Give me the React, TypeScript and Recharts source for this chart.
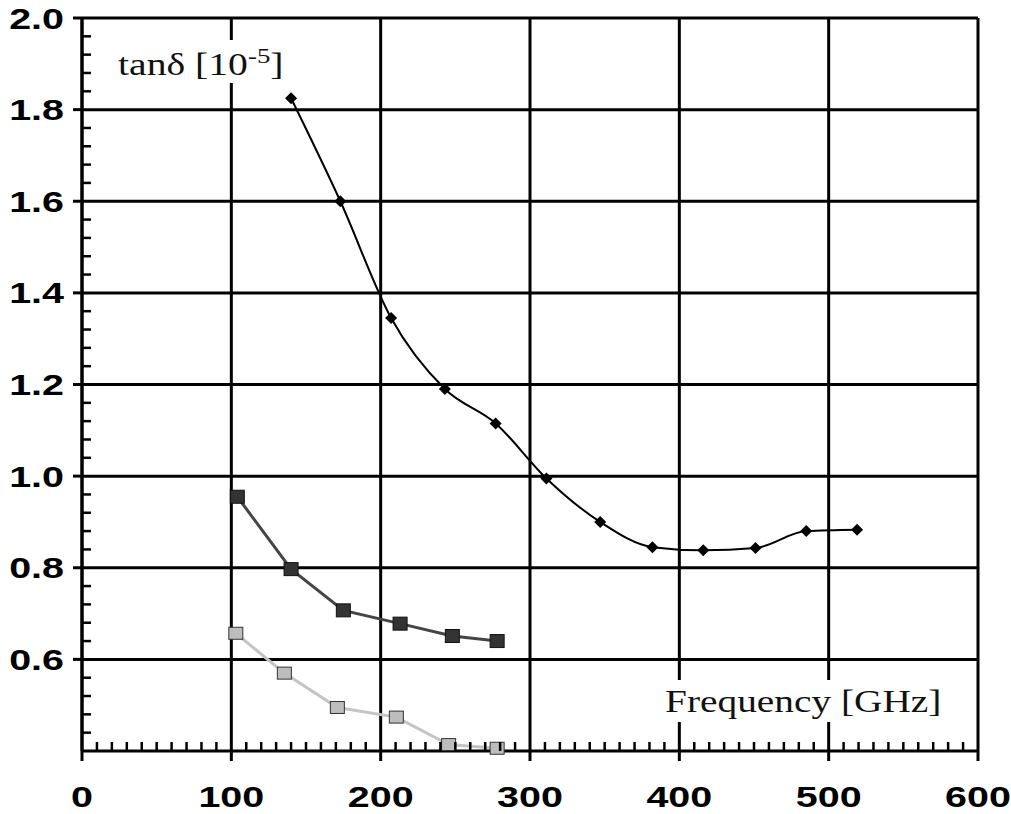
import React from "react";
import { ComposedChart, Line, XAxis, YAxis, CartesianGrid, Customized } from "recharts";

// black diamonds (smoothed curve)
const freqA = [140, 173, 207, 243, 277, 311, 347, 382, 416, 451, 485, 519];
const tanA = [1.825, 1.6, 1.345, 1.19, 1.115, 0.995, 0.9, 0.845, 0.838, 0.843, 0.88, 0.883];
// dark grey squares
const freqB = [104, 140, 175, 213, 248, 278];
const tanB = [0.955, 0.797, 0.707, 0.678, 0.651, 0.64];
// light grey squares
const freqC = [103, 135.5, 171, 210.5, 245.5, 278];
const tanC = [0.657, 0.57, 0.495, 0.474, 0.414, 0.406];

const xMajor = [0, 100, 200, 300, 400, 500, 600];
const yMajor = [0.6, 0.8, 1.0, 1.2, 1.4, 1.6, 1.8, 2.0];
// minor ticks every 10 GHz and every 0.04
const xMinor = Array.from({ length: 61 }, (_, i) => i * 10);
const yMinor = Array.from({ length: 41 }, (_, i) => Math.round((0.4 + i * 0.04) * 100) / 100);

const toPoints = (xs: number[], ys: number[]) => xs.map((x, i) => ({ x, y: ys[i] }));
const dataA = toPoints(freqA, tanA);
const dataB = toPoints(freqB, tanB);
const dataC = toPoints(freqC, tanC);

const STRETCH = 1.36;
const boldFont = "'Liberation Sans', Arial, sans-serif";
const serifFont = "'Liberation Serif', 'Times New Roman', serif";

const isXMajor = (v: number) => xMajor.includes(v);
const isYMajor = (v: number) => yMajor.some((m) => Math.abs(m - v) < 1e-6);

const XTick = ({ x, y, payload }: any) => {
  const v = payload.value;
  if (!isXMajor(v)) {
    return <line x1={x} y1={y} x2={x} y2={y - 9} stroke="#000" strokeWidth={2.5} />;
  }
  return (
    <g>
      <line x1={x} y1={y} x2={x} y2={y + 10} stroke="#000" strokeWidth={3} />
      <g transform={`translate(${x},${y + 56}) scale(${STRETCH},1)`}>
        <text textAnchor="middle" fontSize={29} fontWeight={700} fontFamily={boldFont} fill="#000">
          {v}
        </text>
      </g>
    </g>
  );
};

const YTick = ({ x, y, payload }: any) => {
  const v = payload.value;
  if (Math.abs(v - 0.4) < 1e-6) return <g />;
  if (!isYMajor(v)) {
    return <line x1={x} y1={y} x2={x + 9} y2={y} stroke="#000" strokeWidth={2.5} />;
  }
  return (
    <g>
      <line x1={x - 9} y1={y} x2={x} y2={y} stroke="#000" strokeWidth={3} />
      <g transform={`translate(${x - 18},${y + 10.5}) scale(${STRETCH},1)`}>
        <text textAnchor="end" fontSize={29} fontWeight={700} fontFamily={boldFont} fill="#000">
          {Number(v).toFixed(1)}
        </text>
      </g>
    </g>
  );
};

const Diamond = ({ cx, cy }: any) =>
  cx == null ? null : <path d={`M${cx},${cy - 6}L${cx + 6},${cy}L${cx},${cy + 6}L${cx - 6},${cy}Z`} fill="#000" />;

const DarkSquare = ({ cx, cy }: any) =>
  cx == null ? null : <rect x={cx - 7} y={cy - 6.5} width={14} height={13} fill="#333" stroke="#111" strokeWidth={1} />;

const LightSquare = ({ cx, cy }: any) =>
  cx == null ? null : <rect x={cx - 7} y={cy - 6} width={14} height={12} fill="#bdbdbd" stroke="#333" strokeWidth={1} />;

const Labels = () => (
  <g>
    <rect x={112} y={40} width={176} height={43} fill="#fff" />
    <g transform={`translate(118,75) scale(1.28,1)`}>
      <text fontFamily={serifFont} fontSize={31} fill="#111">
        <tspan>tanδ [10</tspan>
        <tspan dy={-12} fontSize={21}>-5</tspan>
        <tspan dy={12}>]</tspan>
      </text>
    </g>
    <rect x={660} y={680} width={285} height={42} fill="#fff" />
    <g transform={`translate(665,712) scale(1.23,1)`}>
      <text fontFamily={serifFont} fontSize={32} fill="#111">Frequency [GHz]</text>
    </g>
  </g>
);

export default function App() {
  return (
    <div style={{ position: "absolute", left: 0, top: 0, background: "#fff" }}>
      <ComposedChart width={1011} height={814} margin={{ top: 18, right: 33, bottom: 0, left: 0 }}>
        <CartesianGrid stroke="#000" strokeWidth={3} horizontalValues={yMajor} verticalValues={xMajor} />
        <Customized component={Labels} />
        <XAxis
          dataKey="x"
          type="number"
          domain={[0, 600]}
          ticks={xMinor}
          interval={0}
          height={63}
          tickSize={0}
          tickMargin={0}
          tickLine={false}
          tick={<XTick />}
          axisLine={{ stroke: "#000", strokeWidth: 3 }}
        />
        <YAxis
          type="number"
          domain={[0.4, 2.0]}
          ticks={yMinor}
          interval={0}
          width={82}
          tickSize={0}
          tickMargin={0}
          tickLine={false}
          tick={<YTick />}
          axisLine={{ stroke: "#000", strokeWidth: 3 }}
        />
        <Line
          data={dataC}
          dataKey="y"
          type="linear"
          stroke="#c4c4c4"
          strokeWidth={3}
          dot={<LightSquare />}
          activeDot={false}
          isAnimationActive={false}
        />
        <Line
          data={dataB}
          dataKey="y"
          type="linear"
          stroke="#454545"
          strokeWidth={3}
          dot={<DarkSquare />}
          activeDot={false}
          isAnimationActive={false}
        />
        <Line
          data={dataA}
          dataKey="y"
          type="monotone"
          stroke="#000"
          strokeWidth={2}
          dot={<Diamond />}
          activeDot={false}
          isAnimationActive={false}
        />
      </ComposedChart>
    </div>
  );
}
